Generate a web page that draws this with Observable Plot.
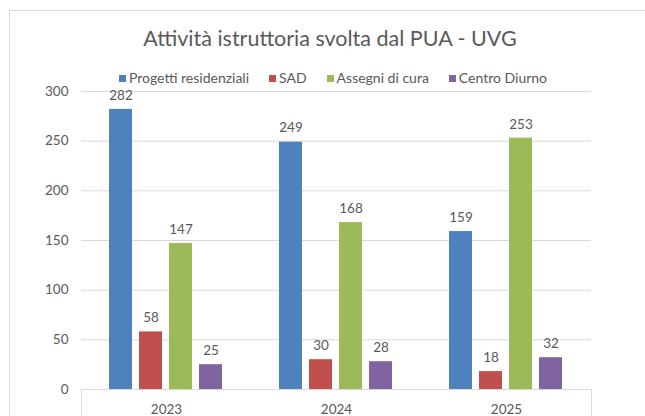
<!DOCTYPE html>
<html>
<head>
<meta charset="utf-8">
<script src="https://cdn.jsdelivr.net/npm/d3@7"></script>
<script src="https://cdn.jsdelivr.net/npm/@observablehq/plot@0.6"></script>
<style>
  html, body { margin: 0; padding: 0; background: #fff; overflow: hidden; width: 645px; height: 416px; }
  #wrap { position: relative; width: 645px; height: 416px; overflow: hidden; background: #fff; font-family: Lato, "Open Sans", sans-serif; color: #595959; }
  #frameTop { position: absolute; left: 9px; top: 10px; width: 636px; height: 1px; background: #d9d9d9; }
  #frameLeft { position: absolute; left: 9px; top: 10px; width: 1px; height: 406px; background: #d9d9d9; }
  #title { position: absolute; left: 30px; width: 600px; top: 26px; text-align: center; font-size: 21.5px; line-height: 24px; white-space: nowrap; }
  #legend { position: absolute; left: 33px; width: 600px; top: 69px; display: flex; justify-content: center; gap: 20px; font-size: 14px; line-height: 17px; white-space: nowrap; }
  #legend .item { display: flex; align-items: center; }
  #legend .sw { width: 7px; height: 7px; margin-right: 3px; margin-top: 2px; }
  #chart { position: absolute; left: 0; top: 86px; }
</style>
</head>
<body>
<div id="wrap">
  <div id="frameTop"></div>
  <div id="frameLeft"></div>
  <div id="title">Attività istruttoria svolta dal PUA - UVG</div>
  <div id="legend"></div>
  <div id="chart"></div>
</div>
<script>
const years = ["2023", "2024", "2025"];
const series = ["Progetti residenziali", "SAD", "Assegni di cura", "Centro Diurno"];
const progettiResidenziali = [282, 249, 159];
const sad = [58, 30, 18];
const assegniDiCura = [147, 168, 253];
const centroDiurno = [25, 28, 32];
const yTicks = [0, 50, 100, 150, 200, 250, 300];
const colors = ["#4F81BD", "#C0504D", "#9BBB59", "#8064A2"];

const valuesBySeries = [progettiResidenziali, sad, assegniDiCura, centroDiurno];
const data = [];
years.forEach((year, i) => {
  series.forEach((s, j) => {
    data.push({year, series: s, value: valuesBySeries[j][i]});
  });
});

const textColor = "#595959";
const gridColor = "#d9d9d9";

const chart = Plot.plot({
  width: 645,
  height: 330,
  marginLeft: 80,
  marginRight: 54,
  marginTop: 5,
  marginBottom: 27,
  style: {fontFamily: "Lato, 'Open Sans', sans-serif", fontSize: "13px", color: textColor, background: "transparent", overflow: "visible"},
  fx: {domain: years, padding: 0, label: null},
  x: {domain: series, paddingInner: 0.226, paddingOuter: 0.87, axis: null},
  y: {domain: [0, 300], label: null},
  color: {domain: series, range: colors},
  marks: [
    Plot.gridY(yTicks, {stroke: gridColor, strokeOpacity: 1, strokeWidth: 1}),
    Plot.barY(data, {fx: "year", x: "series", y: "value", fill: "series"}),
    Plot.text(data, {fx: "year", x: "series", y: "value", text: d => String(d.value), dy: -14, fill: textColor, fontSize: 13.5}),
    Plot.axisY(yTicks, {tickSize: 0, tickPadding: 13, fill: textColor, fontSize: 13.5, label: null}),
    Plot.axisFx({anchor: "bottom", tickSize: 0, tickPadding: 15, fill: textColor, fontSize: 13.5, label: null})
  ]
});

document.getElementById("chart").appendChild(chart);

// outer vertical lines of the category axis, positioned through the plot's scales
const fx = chart.scale("fx");
const ys = chart.scale("y");
const left = fx.apply(years[0]);
const right = fx.apply(years[years.length - 1]) + fx.bandwidth;
const y0 = ys.apply(0);
const svg = d3.select(chart.tagName.toLowerCase() === "svg" ? chart : chart.querySelector("svg"));
svg.append("g")
  .selectAll("line")
  .data([left, right])
  .join("line")
  .attr("x1", d => Math.round(d) + 0.5)
  .attr("x2", d => Math.round(d) + 0.5)
  .attr("y1", y0)
  .attr("y2", 330)
  .attr("stroke", gridColor);

// legend built from the same series and colour scale
const color = chart.scale("color");
const legend = d3.select("#legend");
series.forEach(s => {
  const item = legend.append("div").attr("class", "item");
  item.append("div").attr("class", "sw").style("background", color.apply(s));
  item.append("span").text(s);
});
</script>
</body>
</html>
